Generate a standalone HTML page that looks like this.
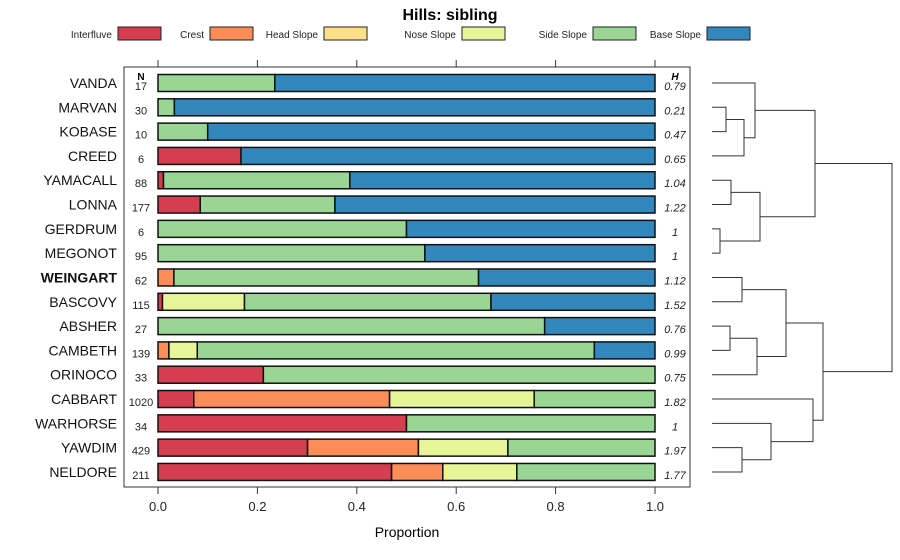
<!DOCTYPE html>
<html><head><meta charset="utf-8">
<style>
html,body{margin:0;padding:0;background:#fff;}
svg{display:block;font-family:"Liberation Sans",sans-serif;}
</style></head>
<body>
<svg id="chart" width="900" height="560" viewBox="0 0 900 560">
<text x="450" y="20" text-anchor="middle" font-size="16" font-weight="bold">Hills: sibling</text>
<g id="legend"></g>
<rect x="124" y="67" width="566" height="420" fill="none" stroke="#333" stroke-width="1"/>
<g id="axes"></g>
<g id="bars"></g>
<g id="dendro"></g>
<text x="407" y="537" text-anchor="middle" font-size="14">Proportion</text>
<text x="141" y="80" text-anchor="middle" font-size="10" font-weight="bold">N</text>
<text x="675" y="80" text-anchor="middle" font-size="10" font-weight="bold" font-style="italic">H</text>
</svg>
<script>
const classes = ["Interfluve","Crest","Head Slope","Nose Slope","Side Slope","Base Slope"];
const colors = ["#d53e4f","#fc8d59","#fee08b","#e6f598","#99d594","#3288bd"];
const series = ["VANDA","MARVAN","KOBASE","CREED","YAMACALL","LONNA","GERDRUM","MEGONOT","WEINGART","BASCOVY","ABSHER","CAMBETH","ORINOCO","CABBART","WARHORSE","YAWDIM","NELDORE"];
const nValues = ["17","30","10","6","88","177","6","95","62","115","27","139","33","1020","34","429","211"];
const hValues = ["0.79","0.21","0.47","0.65","1.04","1.22","1","1","1.12","1.52","0.76","0.99","0.75","1.82","1","1.97","1.77"];
const interfluve = [0,0,0,0.167,0.011,0.085,0,0,0,0.009,0,0,0.212,0.072,0.5,0.301,0.47];
const crest      = [0,0,0,0,0,0,0,0,0.032,0,0,0.022,0,0.394,0,0.223,0.103];
const headSlope  = [0,0,0,0,0,0,0,0,0,0,0,0,0,0,0,0,0];
const noseSlope  = [0,0,0,0,0,0,0,0,0,0.165,0,0.057,0,0.291,0,0.18,0.149];
const sideSlope  = [0.235,0.033,0.10,0,0.375,0.271,0.5,0.537,0.613,0.496,0.778,0.799,0.788,0.243,0.5,0.296,0.278];
const baseSlope  = [0.765,0.967,0.90,0.833,0.614,0.644,0.5,0.463,0.355,0.33,0.222,0.122,0,0,0,0,0];
const ticks = [0,0.2,0.4,0.6,0.8,1.0];
const tickLabels = ["0.0","0.2","0.4","0.6","0.8","1.0"];
// dendrogram merges: [left, right, height]; negative = leaf index, positive = merge number (1-based)
const merges = [[-1,-2,726],[1,-3,744],[-0,2,755],[-4,-5,731],[-6,-7,720],[4,5,760],[3,6,815],
 [-8,-9,742],[-10,-11,730],[9,-12,757],[8,10,786],[-15,-16,742],[-14,12,771],[-13,13,813],[11,14,823],[7,15,892]];
const leafRef = [-0,-1,-2,-3,-4,-5,-6,-7,-8,-9,-10,-11,-12,-13,-14,-15,-16];

const NS="http://www.w3.org/2000/svg";
function mk(tag,attrs,parent){const e=document.createElementNS(NS,tag);for(const k in attrs)e.setAttribute(k,attrs[k]);parent.appendChild(e);return e;}
const xs = v => 158 + v*497;
const ys = i => 83 + i*24.31;
const leafX = 712;

// legend
const lg=document.getElementById('legend');
const boxX=[118,210,324,462,593,707];
classes.forEach((c,i)=>{
  const t=mk('text',{x:boxX[i]-6,y:38,'text-anchor':'end','font-size':'10',fill:'#222'},lg);t.textContent=c;
  
  
  const r=mk('rect',{x:boxX[i],y:27,width:43,height:13,fill:colors[i],stroke:'#222','stroke-width':1},lg);
  
  
});
// axes
const ax=document.getElementById('axes');
ticks.forEach((t,i)=>{
  const l1=mk('line',{x1:xs(t),x2:xs(t),y1:60,y2:67,stroke:'#333'},ax);
  
  
  const l2=mk('line',{x1:xs(t),x2:xs(t),y1:487,y2:494,stroke:'#333'},ax);
  
  
  const tx=mk('text',{x:xs(t),y:511,'text-anchor':'middle','font-size':'13',fill:'#222'},ax);tx.textContent=tickLabels[i];
  
  
});
// bars
const bg=document.getElementById('bars');
const cols=[interfluve,crest,headSlope,noseSlope,sideSlope,baseSlope];
series.forEach((s,i)=>{
  const y=ys(i);
  const lab=mk('text',{x:117,y:y+5,'text-anchor':'end','font-size':'14',fill:'#111','font-weight':s==='WEINGART'?'bold':'normal'},bg);lab.textContent=s;
  
  
  const n=mk('text',{x:141,y:y+7,'text-anchor':'middle','font-size':'11',fill:'#222'},bg);n.textContent=nValues[i];
  
  
  const h=mk('text',{x:675,y:y+7,'text-anchor':'middle','font-size':'11','font-style':'italic',fill:'#222'},bg);h.textContent=hValues[i];
  
  
  let acc=0;
  cols.forEach((arr,k)=>{
    const v=arr[i]; if(v<=0)return;
    const r=mk('rect',{x:xs(acc),y:y-8.5,width:xs(acc+v)-xs(acc),height:17,fill:colors[k],stroke:'#111','stroke-width':1.5},bg);
    
    
    acc+=v;
  });
});
// dendrogram
const dg=document.getElementById('dendro');
const pos=[];
function node(ref){ if(ref<=0 && !(ref>0)) { const li=-ref; return {x:leafX,y:ys(li)}; } return pos[ref-1]; }
merges.forEach((m,idx)=>{
  const a=(m[0]>0)?pos[m[0]-1]:{x:leafX,y:ys(-m[0])};
  const b=(m[1]>0)?pos[m[1]-1]:{x:leafX,y:ys(-m[1])};
  const hx=m[2];
  const p=mk('path',{d:`M${a.x},${a.y}H${hx}V${b.y}H${b.x}`,fill:'none',stroke:'#333','stroke-width':1},dg);
  
  
  pos.push({x:hx,y:(a.y+b.y)/2});
});
</script>
</body></html>
